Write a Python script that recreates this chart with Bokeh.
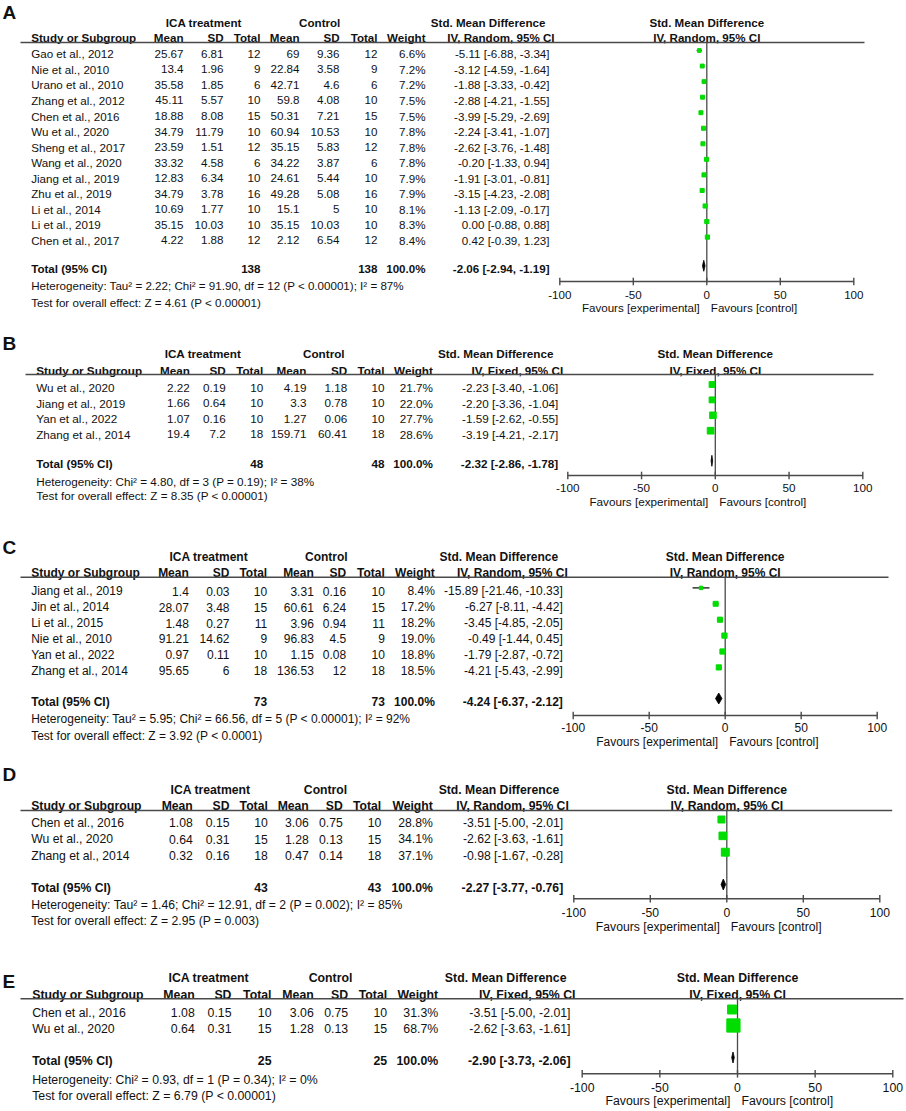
from bokeh.plotting import figure
from bokeh.models import Range1d, ColumnDataSource
from bokeh.core.properties import value
from bokeh.embed import file_html
from bokeh.resources import INLINE
import math

FONT = "Liberation Sans"
GREEN = "#00dd00"
LINE = "#4a4a4a"
INK = "#111111"

# ---------------- data ----------------
# Panel A (IV, Random)
studies_a = ["Gao et al., 2012", "Nie et al., 2010", "Urano et al., 2010", "Zhang et al., 2012",
             "Chen et al., 2016", "Wu et al., 2020", "Sheng et al., 2017", "Wang et al., 2020",
             "Jiang et al., 2019", "Zhu et al., 2019", "Li et al., 2014", "Li et al., 2019",
             "Chen et al., 2017"]
trt_mean_a = [25.67, 13.4, 35.58, 45.11, 18.88, 34.79, 23.59, 33.32, 12.83, 34.79, 10.69, 35.15, 4.22]
trt_sd_a = [6.81, 1.96, 1.85, 5.57, 8.08, 11.79, 1.51, 4.58, 6.34, 3.78, 1.77, 10.03, 1.88]
trt_n_a = [12, 9, 6, 10, 15, 10, 12, 6, 10, 16, 10, 10, 12]
ctl_mean_a = [69, 22.84, 42.71, 59.8, 50.31, 60.94, 35.15, 34.22, 24.61, 49.28, 15.1, 35.15, 2.12]
ctl_sd_a = [9.36, 3.58, 4.6, 4.08, 7.21, 10.53, 5.83, 3.87, 5.44, 5.08, 5, 10.03, 6.54]
ctl_n_a = [12, 9, 6, 10, 15, 10, 12, 6, 10, 16, 10, 10, 12]
weight_a = [6.6, 7.2, 7.2, 7.5, 7.5, 7.8, 7.8, 7.8, 7.9, 7.9, 8.1, 8.3, 8.4]
smd_a = [-5.11, -3.12, -1.88, -2.88, -3.99, -2.24, -2.62, -0.20, -1.91, -3.15, -1.13, 0.00, 0.42]
lo_a = [-6.88, -4.59, -3.33, -4.21, -5.29, -3.41, -3.76, -1.33, -3.01, -4.23, -2.09, -0.88, -0.39]
hi_a = [-3.34, -1.64, -0.42, -1.55, -2.69, -1.07, -1.48, 0.94, -0.81, -2.08, -0.17, 0.88, 1.23]
total_a = [138, 138, -2.06, -2.94, -1.19]
het_a = "Heterogeneity: Tau\u00b2 = 2.22; Chi\u00b2 = 91.90, df = 12 (P < 0.00001); I\u00b2 = 87%"
test_a = "Test for overall effect: Z = 4.61 (P < 0.00001)"

# Panel B (IV, Fixed)
studies_b = ["Wu et al., 2020", "Jiang et al., 2019", "Yan et al., 2022", "Zhang et al., 2014"]
trt_mean_b = [2.22, 1.66, 1.07, 19.4]
trt_sd_b = [0.19, 0.64, 0.16, 7.2]
trt_n_b = [10, 10, 10, 18]
ctl_mean_b = [4.19, 3.3, 1.27, 159.71]
ctl_sd_b = [1.18, 0.78, 0.06, 60.41]
ctl_n_b = [10, 10, 10, 18]
weight_b = [21.7, 22.0, 27.7, 28.6]
smd_b = [-2.23, -2.20, -1.59, -3.19]
lo_b = [-3.40, -3.36, -2.62, -4.21]
hi_b = [-1.06, -1.04, -0.55, -2.17]
total_b = [48, 48, -2.32, -2.86, -1.78]
het_b = "Heterogeneity: Chi\u00b2 = 4.80, df = 3 (P = 0.19); I\u00b2 = 38%"
test_b = "Test for overall effect: Z = 8.35 (P < 0.00001)"

# Panel C (IV, Random)
studies_c = ["Jiang et al., 2019", "Jin et al., 2014", "Li et al., 2015", "Nie et al., 2010",
             "Yan et al., 2022", "Zhang et al., 2014"]
trt_mean_c = [1.4, 28.07, 1.48, 91.21, 0.97, 95.65]
trt_sd_c = [0.03, 3.48, 0.27, 14.62, 0.11, 6]
trt_n_c = [10, 15, 11, 9, 10, 18]
ctl_mean_c = [3.31, 60.61, 3.96, 96.83, 1.15, 136.53]
ctl_sd_c = [0.16, 6.24, 0.94, 4.5, 0.08, 12]
ctl_n_c = [10, 15, 11, 9, 10, 18]
weight_c = [8.4, 17.2, 18.2, 19.0, 18.8, 18.5]
smd_c = [-15.89, -6.27, -3.45, -0.49, -1.79, -4.21]
lo_c = [-21.46, -8.11, -4.85, -1.44, -2.87, -5.43]
hi_c = [-10.33, -4.42, -2.05, 0.45, -0.72, -2.99]
total_c = [73, 73, -4.24, -6.37, -2.12]
het_c = "Heterogeneity: Tau\u00b2 = 5.95; Chi\u00b2 = 66.56, df = 5 (P < 0.00001); I\u00b2 = 92%"
test_c = "Test for overall effect: Z = 3.92 (P < 0.0001)"

# Panel D (IV, Random)
studies_d = ["Chen et al., 2016", "Wu et al., 2020", "Zhang et al., 2014"]
trt_mean_d = [1.08, 0.64, 0.32]
trt_sd_d = [0.15, 0.31, 0.16]
trt_n_d = [10, 15, 18]
ctl_mean_d = [3.06, 1.28, 0.47]
ctl_sd_d = [0.75, 0.13, 0.14]
ctl_n_d = [10, 15, 18]
weight_d = [28.8, 34.1, 37.1]
smd_d = [-3.51, -2.62, -0.98]
lo_d = [-5.00, -3.63, -1.67]
hi_d = [-2.01, -1.61, -0.28]
total_d = [43, 43, -2.27, -3.77, -0.76]
het_d = "Heterogeneity: Tau\u00b2 = 1.46; Chi\u00b2 = 12.91, df = 2 (P = 0.002); I\u00b2 = 85%"
test_d = "Test for overall effect: Z = 2.95 (P = 0.003)"

# Panel E (IV, Fixed)
studies_e = ["Chen et al., 2016", "Wu et al., 2020"]
trt_mean_e = [1.08, 0.64]
trt_sd_e = [0.15, 0.31]
trt_n_e = [10, 15]
ctl_mean_e = [3.06, 1.28]
ctl_sd_e = [0.75, 0.13]
ctl_n_e = [10, 15]
weight_e = [31.3, 68.7]
smd_e = [-3.51, -2.62]
lo_e = [-5.00, -3.63]
hi_e = [-2.01, -1.61]
total_e = [25, 25, -2.90, -3.73, -2.06]
het_e = "Heterogeneity: Chi\u00b2 = 0.93, df = 1 (P = 0.34); I\u00b2 = 0%"
test_e = "Test for overall effect: Z = 6.79 (P < 0.00001)"

tick_values = [-100, -50, 0, 50, 100]
tick_labels = ["-100", "-50", "0", "50", "100"]
col_headers = ["Mean", "SD", "Total", "Mean", "SD", "Total", "Weight"]

# ---------------- layout (pixel positions, page coords) ----------------
panels = [
    dict(key="A", model="Random",
         data=(studies_a, trt_mean_a, trt_sd_a, trt_n_a, ctl_mean_a, ctl_sd_a, ctl_n_a,
               weight_a, smd_a, lo_a, hi_a, total_a, het_a, test_a),
         label_y=11.7, h1=22, h2=37, line_y=42, line_x=(20, 864), row0=53.3, dy=15.55,
         total=268.3, het=285, test=301.7, axis=281, tick=294, fav=307, xname=30.7,
         cols=[183, 223, 260, 299, 339, 377, 425], eff=549, smd_h1=545, smd_h2=554,
         ica=203.3, ctl=319.2, ax=(559.3, 853.3), fs=11.6, box=1.45),
    dict(key="B", model="Fixed",
         data=(studies_b, trt_mean_b, trt_sd_b, trt_n_b, ctl_mean_b, ctl_sd_b, ctl_n_b,
               weight_b, smd_b, lo_b, hi_b, total_b, het_b, test_b),
         label_y=343.3, h1=353.3, h2=370, line_y=374, line_x=(25, 873), row0=387.3, dy=15.4,
         total=463.3, het=480.7, test=495, axis=475, tick=487.7, fav=501, xname=35.7,
         cols=[189.3, 225.3, 262.7, 306, 346.7, 384, 432.3], eff=557.7, smd_h1=553, smd_h2=562.7,
         ica=202.5, ctl=323.3, ax=(567.3, 862.3), fs=11.7, box=1.25),
    dict(key="C", model="Random",
         data=(studies_c, trt_mean_c, trt_sd_c, trt_n_c, ctl_mean_c, ctl_sd_c, ctl_n_c,
               weight_c, smd_c, lo_c, hi_c, total_c, het_c, test_c),
         label_y=547, h1=556.7, h2=572.7, line_y=576.7, line_x=(20, 888), row0=590.7, dy=15.9,
         total=701, het=718.3, test=735, axis=715, tick=726.7, fav=741.7, xname=30.7,
         cols=[188.3, 229, 266.7, 313.3, 345.7, 384.3, 434.3], eff=562.3, smd_h1=557.7, smd_h2=567.3,
         ica=208.3, ctl=325.8, ax=(572.7, 876.7), fs=12.0, box=1.2),
    dict(key="D", model="Random",
         data=(studies_d, trt_mean_d, trt_sd_d, trt_n_d, ctl_mean_d, ctl_sd_d, ctl_n_d,
               weight_d, smd_d, lo_d, hi_d, total_d, het_d, test_d),
         label_y=774, h1=789, h2=805, line_y=810, line_x=(20, 891.7), row0=822.3, dy=16.35,
         total=887, het=904, test=920.7, axis=898.3, tick=912, fav=926.7, xname=30.7,
         cols=[192.3, 229, 267.3, 308.3, 342.3, 380.7, 432.3], eff=562.7, smd_h1=558.7, smd_h2=568.3,
         ica=210, ctl=325, ax=(573.3, 879.3), fs=12.2, box=1.3),
    dict(key="E", model="Fixed",
         data=(studies_e, trt_mean_e, trt_sd_e, trt_n_e, ctl_mean_e, ctl_sd_e, ctl_n_e,
               weight_e, smd_e, lo_e, hi_e, total_e, het_e, test_e),
         label_y=981, h1=977.7, h2=994.3, line_y=998.3, line_x=(20, 903), row0=1012.3, dy=16,
         total=1060, het=1079.3, test=1095, axis=1073.3, tick=1086.7, fav=1100.5, xname=31.7,
         cols=[194.3, 231, 271, 313.3, 347.7, 386.7, 437.7], eff=570, smd_h1=566, smd_h2=575,
         ica=208.3, ctl=330, ax=(581.7, 892.3), fs=12.3, box=1.6),
]

X0, X1, Y0, Y1 = 0, 906, 0, 1111
p = figure(width=X1 - X0, height=Y1 - Y0, x_range=Range1d(X0, X1), y_range=Range1d(Y1, Y0),
           output_backend="svg", toolbar_location=None, x_axis_type=None, y_axis_type=None,
           min_border=0)
p.outline_line_color = None
p.background_fill_color = "white"
p.border_fill_color = "white"


def fmt(v):
    return f"{v:g}"


def txt(xs, ys, texts, fs, align="left", bold=False, rng="default", x_offset=0, size=None):
    size = size or fs
    src = ColumnDataSource(dict(x=list(xs), y=list(ys), t=list(texts)))
    p.text(x="x", y="y", text="t", source=src, text_align=align, text_baseline="alphabetic",
           text_font=value(FONT), text_font_size=f"{size}px",
           text_font_style="bold" if bold else "normal", text_color=INK,
           x_range_name=rng, x_offset=x_offset)


for P in panels:
    (studies, tm, tsd, tn, cm, csd, cn, w, smd, lo, hi, tot, het, test) = P["data"]
    fs = P["fs"]
    cols = P["cols"]
    n = len(studies)
    rows = [P["row0"] + i * P["dy"] for i in range(n)]
    rng = "forest_" + P["key"]
    xl, xr = P["ax"]
    s = (tick_values[-1] - tick_values[0]) / (xr - xl)
    p.extra_x_ranges[rng] = Range1d(tick_values[0] - (xl - X0) * s, tick_values[-1] + (X1 - xr) * s)

    # panel letter
    txt([2], [P["label_y"]], [P["key"]], fs, bold=True, size=19)
    # group headers
    txt([P["ica"]], [P["h1"]], ["ICA treatment"], fs, align="center", bold=True)
    txt([P["ctl"]], [P["h1"]], ["Control"], fs, align="center", bold=True)
    txt([P["smd_h1"]], [P["h1"]], ["Std. Mean Difference"], fs, align="right", bold=True)
    model_txt = f"IV, {P['model']}, 95% CI"
    txt([P["smd_h2"]], [P["h2"]], [model_txt], fs, align="right", bold=True)
    txt([0], [P["h1"]], ["Std. Mean Difference"], fs, align="center", bold=True, rng=rng)
    txt([0], [P["h2"]], [model_txt], fs, align="center", bold=True, rng=rng)
    txt([P["xname"]], [P["h2"]], ["Study or Subgroup"], fs, bold=True)
    txt(cols, [P["h2"]] * 7, col_headers, fs, align="right", bold=True)
    # header rule
    p.segment(x0=[P["line_x"][0]], x1=[P["line_x"][1]], y0=[P["line_y"]], y1=[P["line_y"]],
              line_color=LINE, line_width=1.6)

    # study rows
    txt([P["xname"]] * n, rows, studies, fs)
    for ci, arr in enumerate([tm, tsd, tn, cm, csd, cn]):
        txt([cols[ci]] * n, rows, [fmt(v) for v in arr], fs, align="right")
    txt([cols[6]] * n, rows, [f"{v:.1f}%" for v in w], fs, align="right")
    txt([P["eff"]] * n, rows, [f"{a:.2f} [{b:.2f}, {c:.2f}]" for a, b, c in zip(smd, lo, hi)],
        fs, align="right")

    # total row
    ty = P["total"]
    txt([P["xname"]], [ty], ["Total (95% CI)"], fs, bold=True)
    txt([cols[2], cols[5], cols[6]], [ty] * 3, [fmt(tot[0]), fmt(tot[1]), "100.0%"], fs,
        align="right", bold=True)
    txt([P["eff"]], [ty], [f"{tot[2]:.2f} [{tot[3]:.2f}, {tot[4]:.2f}]"], fs, align="right", bold=True)
    txt([P["xname"]], [P["het"]], [het], fs)
    txt([P["xname"]], [P["test"]], [test], fs)

    # forest: zero line
    p.segment(x0=[0], x1=[0], y0=[P["line_y"]], y1=[P["axis"]], line_color=LINE, line_width=1.3,
              x_range_name=rng)
    # CI lines and boxes
    my = [r - 3.3 for r in rows]
    p.segment(x0=lo, x1=hi, y0=my, y1=my, line_color="black", line_width=1.2, x_range_name=rng)
    p.scatter(x=smd, y=my, size=[P["box"] * math.sqrt(v) for v in w], marker="square",
              fill_color=GREEN, line_color=GREEN, x_range_name=rng)
    # diamond
    dy_ = ty - 3
    p.patch(x=[tot[3], tot[2], tot[4], tot[2]], y=[dy_, dy_ - 5.5, dy_, dy_ + 5.5],
            fill_color="black", line_color="black", line_width=0.8, x_range_name=rng)
    # axis
    ay = P["axis"]
    p.segment(x0=[tick_values[0]], x1=[tick_values[-1]], y0=[ay], y1=[ay], line_color=LINE,
              line_width=1.6, x_range_name=rng)
    p.segment(x0=tick_values, x1=tick_values, y0=[ay - 3.8] * 5, y1=[ay + 3.8] * 5,
              line_color=LINE, line_width=1.4, x_range_name=rng)
    txt(tick_values, [P["tick"]] * 5, tick_labels, fs, align="center", rng=rng)
    txt([0], [P["fav"]], ["Favours [experimental]"], fs, align="right", rng=rng, x_offset=-7)
    txt([0], [P["fav"]], ["Favours [control]"], fs, align="left", rng=rng, x_offset=4)

open("out.html", "w").write(file_html(p, INLINE))
